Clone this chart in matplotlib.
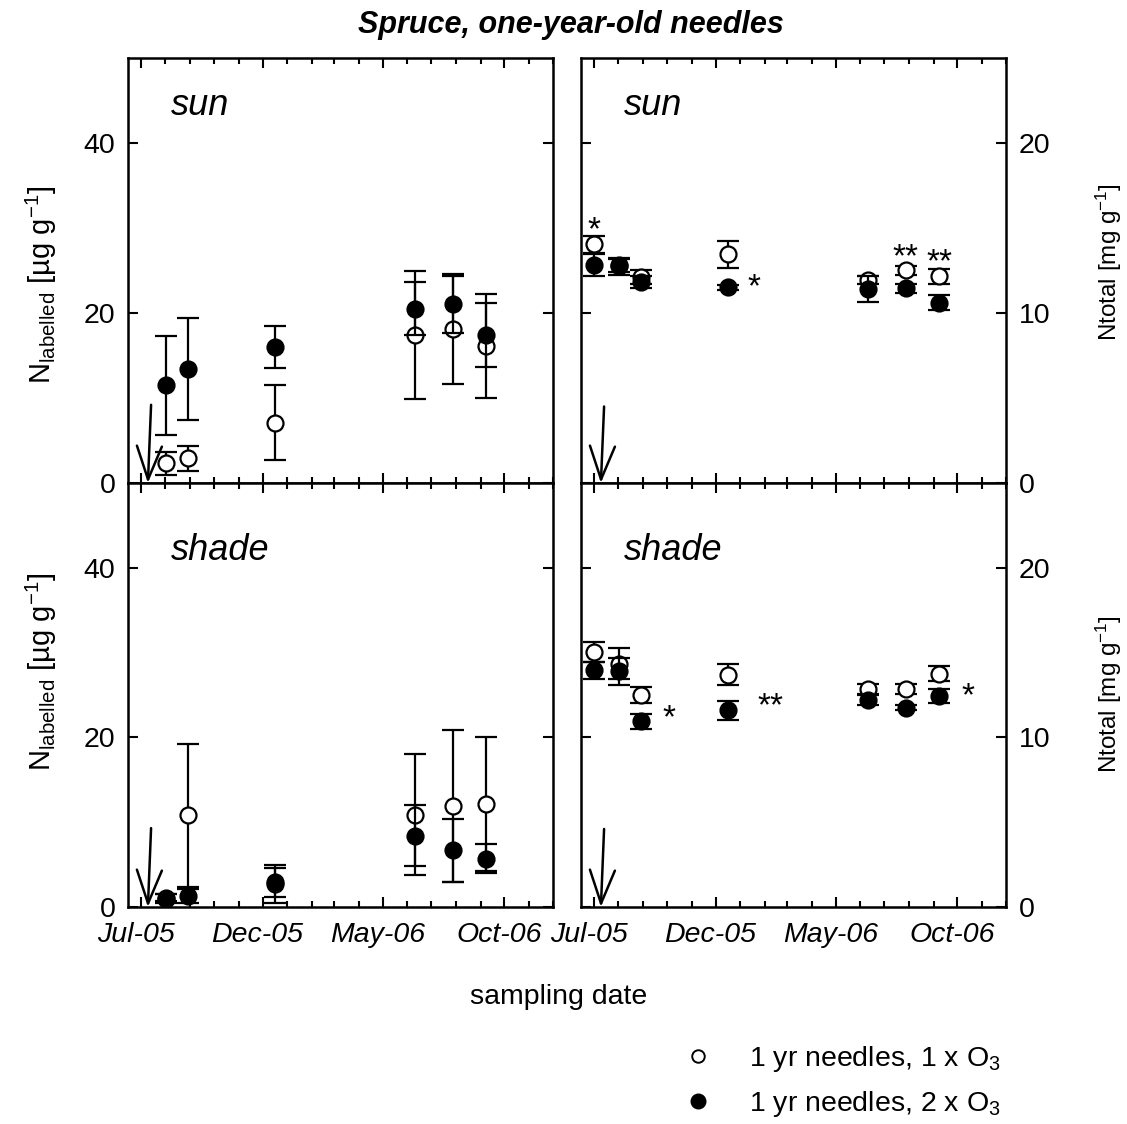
import numpy as np
import matplotlib
matplotlib.use('Agg')
import matplotlib.pyplot as plt
import matplotlib.dates as mdates
import matplotlib.transforms as mtransforms
from matplotlib.lines import Line2D

plt.rcParams['font.family'] = ['Liberation Sans', 'DejaVu Sans']
plt.rcParams['mathtext.fontset'] = 'custom'
plt.rcParams['mathtext.rm'] = 'Liberation Sans'
plt.rcParams['mathtext.it'] = 'Liberation Sans:italic'
plt.rcParams['mathtext.bf'] = 'Liberation Sans:bold'

# sampling dates (N labelled has no value at the first one)
dates = ['2005-07-01', '2005-08-02', '2005-08-29', '2005-12-17',
         '2006-06-11', '2006-07-28', '2006-09-08']
label_date = '2005-07-10'   # 15N labelling -> arrow
tick_dates = ['2005-07-01', '2005-12-01', '2006-05-01', '2006-10-01']
tick_labels = ['Jul-05', 'Dec-05', 'May-06', 'Oct-06']

# N labelled [ug g-1]
sun_lab_1x = [2.3, 2.9, 7.1, 17.4, 18.1, 16.1]
sun_lab_1x_err = [1.4, 1.5, 4.4, 7.5, 6.5, 6.1]
sun_lab_2x = [11.5, 13.4, 16.0, 20.5, 21.0, 17.4]
sun_lab_2x_err = [5.8, 6.0, 2.5, 3.1, 3.4, 3.8]
shade_lab_1x = [1.1, 10.8, 2.7, 10.9, 11.9, 12.1]
shade_lab_1x_err = [0.4, 8.4, 2.2, 7.1, 9.0, 7.9]
shade_lab_2x = [1.0, 1.3, 2.9, 8.4, 6.7, 5.7]
shade_lab_2x_err = [0.5, 0.8, 1.7, 3.6, 3.7, 1.7]

# N total [mg g-1]
sun_tot_1x = [14.05, 12.8, 12.1, 13.45, 11.95, 12.5, 12.15]
sun_tot_1x_err = [0.5, 0.4, 0.4, 0.8, 0.25, 0.25, 0.45]
sun_tot_2x = [12.8, 12.75, 11.8, 11.5, 11.4, 11.45, 10.6]
sun_tot_2x_err = [0.65, 0.5, 0.35, 0.15, 0.75, 0.25, 0.45]
shade_tot_1x = [15.05, 14.35, 12.5, 13.7, 12.85, 12.85, 13.75]
shade_tot_1x_err = [0.6, 0.9, 0.5, 0.6, 0.3, 0.3, 0.45]
shade_tot_2x = [13.95, 13.9, 10.95, 11.6, 12.2, 11.75, 12.45]
shade_tot_2x_err = [0.5, 0.8, 0.45, 0.55, 0.3, 0.15, 0.4]

# significance marks: (date index, text, y of mark, x shift in points)
sun_sig = [(0, '*', 15.3, 0), (3, '*', 11.95, 14), (5, '**', 13.75, 0), (6, '**', 13.45, 0)]
shade_sig = [(2, '*', 11.6, 16), (3, '**', 12.3, 21), (6, '*', 12.85, 16)]

x_all = mdates.datestr2num(dates)
x_lab = x_all[1:]
x_arrow = mdates.datestr2num(label_date)

W, H = 1127, 1124
fig = plt.figure(figsize=(W / 100, H / 100), dpi=100)

def px_axes(x0, y0, x1, y1):
    return fig.add_axes([x0 / W, 1 - y1 / H, (x1 - x0) / W, (y1 - y0) / H])

ax_tl = px_axes(128, 58, 553, 483)
ax_tr = px_axes(581, 58, 1006, 483)
ax_bl = px_axes(128, 483, 553, 907)
ax_br = px_axes(581, 483, 1006, 907)

def draw_series(ax, x, y1, e1, y2, e2):
    common = dict(fmt='o', ms=11.5, mec='black', mew=1.6, ecolor='black',
                  elinewidth=1.6, capsize=8, capthick=1.6)
    ax.errorbar(x, y1, yerr=e1, mfc='white', zorder=3, **common)
    ax.errorbar(x, y2, yerr=e2, mfc='black', zorder=4, **common)

def style_axes(ax, ymax, yticks, right_side, bottom_row):
    ax.set_xlim(mdates.datestr2num('2005-06-15'), mdates.datestr2num('2006-12-01'))
    ax.set_ylim(0, ymax)
    ax.set_xticks(mdates.datestr2num(tick_dates))
    ax.set_xticklabels(tick_labels, fontstyle='italic')
    ax.xaxis.set_minor_locator(mdates.MonthLocator())
    ax.set_yticks(yticks)
    ax.tick_params(which='both', direction='in', top=True, right=True,
                   width=1.5, pad=9, labelsize=20.5)
    ax.tick_params(axis='x', pad=11)
    ax.tick_params(which='major', length=7)
    ax.tick_params(which='minor', length=4)
    if right_side:
        ax.tick_params(axis='y', labelleft=False, labelright=True)
    if not bottom_row:
        ax.tick_params(axis='x', labelbottom=False)
    else:
        shift = mtransforms.ScaledTranslation(-5 / 100, 0, fig.dpi_scale_trans)
        for lab in ax.get_xticklabels():
            lab.set_transform(lab.get_transform() + shift)
    for sp in ax.spines.values():
        sp.set_linewidth(1.8)

def draw_arrow(ax, top):
    ax.annotate('', xy=(x_arrow, 0), xytext=(x_arrow + 4, top),
                arrowprops=dict(arrowstyle='->,head_length=1.2,head_width=0.45',
                                lw=1.8, color='black', shrinkA=0, shrinkB=0,
                                mutation_scale=20),
                annotation_clip=False)

def draw_sig(ax, marks):
    for i, txt, y, dx in marks:
        ax.annotate(txt, xy=(x_all[i], y), xytext=(dx, -12), textcoords='offset points',
                    ha='center' if dx == 0 else 'left', va='baseline', fontsize=24)

draw_series(ax_tl, x_lab, sun_lab_1x, sun_lab_1x_err, sun_lab_2x, sun_lab_2x_err)
draw_series(ax_bl, x_lab, shade_lab_1x, shade_lab_1x_err, shade_lab_2x, shade_lab_2x_err)
draw_series(ax_tr, x_all, sun_tot_1x, sun_tot_1x_err, sun_tot_2x, sun_tot_2x_err)
draw_series(ax_br, x_all, shade_tot_1x, shade_tot_1x_err, shade_tot_2x, shade_tot_2x_err)

style_axes(ax_tl, 50, [0, 20, 40], False, False)
style_axes(ax_bl, 50, [0, 20, 40], False, True)
style_axes(ax_tr, 25, [0, 10, 20], True, False)
style_axes(ax_br, 25, [0, 10, 20], True, True)

draw_arrow(ax_tl, 9.2)
draw_arrow(ax_bl, 9.3)
draw_arrow(ax_tr, 4.5)
draw_arrow(ax_br, 4.6)

draw_sig(ax_tr, sun_sig)
draw_sig(ax_br, shade_sig)

for ax, name, yb in [(ax_tl, 'sun', 0.866), (ax_tr, 'sun', 0.866),
                     (ax_bl, 'shade', 0.818), (ax_br, 'shade', 0.818)]:
    ax.text(0.1, yb, name, transform=ax.transAxes, fontsize=26,
            fontstyle='italic', ha='left', va='baseline')

lab_txt = r'N$_{\mathrm{labelled}}$ [µg g$^{-1}$]'
tot_txt = r'Ntotal [mg g$^{-1}$]'
fig.text(41 / W, 1 - 285 / H, lab_txt, rotation=90, ha='center', va='center', fontsize=21)
fig.text(41 / W, 1 - 672 / H, lab_txt, rotation=90, ha='center', va='center', fontsize=21)
fig.text(1109 / W, 1 - 262 / H, tot_txt, rotation=90, ha='center', va='center', fontsize=17.5)
fig.text(1109 / W, 1 - 694 / H, tot_txt, rotation=90, ha='center', va='center', fontsize=17.5)

fig.text(571 / W, 1 - 33 / H, 'Spruce, one-year-old needles', ha='center', va='baseline',
         fontsize=22, fontweight='bold', fontstyle='italic')
fig.text(559 / W, 1 - 1004 / H, 'sampling date', ha='center', va='baseline', fontsize=20.5)

handles = [Line2D([], [], ls='none', marker='o', ms=9, mfc='white', mec='black', mew=1.4),
           Line2D([], [], ls='none', marker='o', ms=10.5, mfc='black', mec='black')]
fig.legend(handles, ['1 yr needles, 1 x O$_3$', '1 yr needles, 2 x O$_3$'],
           loc='upper left', bbox_to_anchor=(658 / W, 1 - 1018 / H), frameon=False,
           fontsize=20.5, handlelength=1.0, handletextpad=1.3, labelspacing=0.55,
           borderpad=0.4)

fig.savefig('out.png', dpi=100)
